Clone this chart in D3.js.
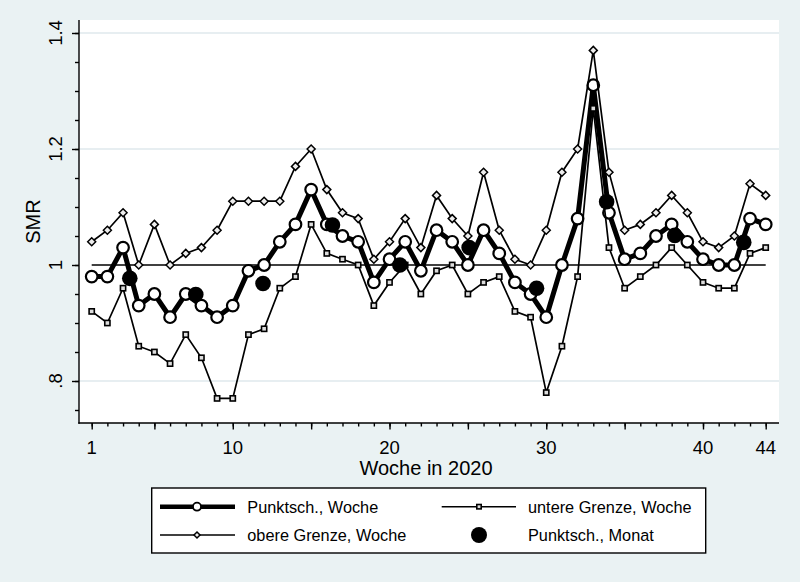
<!DOCTYPE html>
<html>
<head>
<meta charset="utf-8">
<script src="https://cdn.jsdelivr.net/npm/d3@7"></script>
<style>
body{margin:0;background:#eaf2f3;}
svg text{font-family:"Liberation Sans",Arial,sans-serif;fill:#000;}
</style>
</head>
<body>
<svg id="chart" width="800" height="582"></svg>
<script>
// Kalenderwochen 2020
var weeks = [1,2,3,4,5,6,7,8,9,10,11,12,13,14,15,16,17,18,19,20,21,22,
             23,24,25,26,27,28,29,30,31,32,33,34,35,36,37,38,39,40,41,42,43,44];
var punktWoche = [0.98,0.98,1.03,0.93,0.95,0.91,0.95,0.93,0.91,0.93,
                  0.99,1.00,1.04,1.07,1.13,1.07,1.05,1.04,0.97,1.01,
                  1.04,0.99,1.06,1.04,1.00,1.06,1.02,0.97,0.95,0.91,
                  1.00,1.08,1.31,1.09,1.01,1.02,1.05,1.07,1.04,1.01,
                  1.00,1.00,1.08,1.07];
var untereWoche = [0.92,0.90,0.96,0.86,0.85,0.83,0.88,0.84,0.77,0.77,
                   0.88,0.89,0.96,0.98,1.07,1.02,1.01,1.00,0.93,0.97,
                   1.00,0.95,0.99,1.00,0.95,0.97,0.98,0.92,0.91,0.78,
                   0.86,0.98,1.27,1.03,0.96,0.98,1.00,1.03,1.00,0.97,
                   0.96,0.96,1.02,1.03];
var obereWoche = [1.04,1.06,1.09,1.00,1.07,1.00,1.02,1.03,1.06,1.11,
                  1.11,1.11,1.11,1.17,1.20,1.13,1.09,1.08,1.01,1.04,
                  1.08,1.03,1.12,1.08,1.05,1.16,1.06,1.01,1.00,1.06,
                  1.16,1.20,1.37,1.16,1.06,1.07,1.09,1.12,1.09,1.04,
                  1.03,1.05,1.14,1.12];
// Monatswerte, x = Monatsmitte in Wochen
var monatWoche = [3.43,7.64,11.93,16.36,20.66,25.08,29.38,33.85,38.2,42.6];
var punktMonat = [0.977,0.949,0.968,1.069,1.0,1.03,0.96,1.109,1.051,1.039];

var yMajor = [0.8,1,1.2,1.4];
var yLabels = [".8","1","1.2","1.4"];
var yMinor = [0.75,0.8,0.85,0.9,0.95,1,1.05,1.1,1.15,1.2,1.25,1.3,1.35,1.4];
var yGrid = [0.8,1.2,1.4];
var xMajor = [1,5,10,15,20,25,30,35,40,44];
var xLabels = [1,10,20,30,40,44];
var legendLabels = ["Punktsch., Woche","untere Grenze, Woche","obere Grenze, Woche","Punktsch., Monat"];

var svg = d3.select("#chart");
var plot = {left:79, right:779, top:20, bottom:423};

var x = d3.scaleLinear().domain([1,44]).range([91.7,765.7]);
var y = d3.scaleLinear().domain([0.8,1.4]).range([381,33]);

svg.append("rect").attr("width",800).attr("height",582).attr("fill","#eaf2f3");
svg.append("rect")
   .attr("x",plot.left).attr("y",plot.top)
   .attr("width",plot.right-plot.left).attr("height",plot.bottom-plot.top)
   .attr("fill","#ffffff");

// gridlines
svg.selectAll("line.grid")
   .data(yGrid)
   .enter()
   .append("line")
   .attr("class","grid")
   .attr("x1",plot.left).attr("x2",plot.right)
   .attr("y1",function(d){ return y(d); })
   .attr("y2",function(d){ return y(d); })
   .attr("stroke","#dfe8ec")
   .attr("stroke-width",1.5);

// reference line at 1
svg.append("line")
   .attr("x1",x(1)).attr("x2",x(44))
   .attr("y1",y(1)).attr("y2",y(1))
   .attr("stroke","#000").attr("stroke-width",1.6);

// axes
var yMinorAxis = d3.axisLeft(y).tickValues(yMinor).tickSize(4).tickFormat("");
var yMajorAxis = d3.axisLeft(y).tickValues(yMajor).tickSize(7).tickFormat("");
var xMinorAxis = d3.axisBottom(x).tickValues(weeks).tickSize(3.5).tickFormat("");
var xMajorAxis = d3.axisBottom(x).tickValues(xMajor).tickSize(6.5).tickFormat("");

[yMinorAxis,yMajorAxis].forEach(function(ax){
	var g = svg.append("g").attr("transform","translate("+plot.left+",0)").call(ax);
	g.select(".domain").remove();
	g.selectAll("line").attr("stroke","#000").attr("stroke-width",1.4);
});
[xMinorAxis,xMajorAxis].forEach(function(ax){
	var g = svg.append("g").attr("transform","translate(0,"+plot.bottom+")").call(ax);
	g.select(".domain").remove();
	g.selectAll("line").attr("stroke","#000").attr("stroke-width",1.4);
});
svg.append("line")
   .attr("x1",plot.left).attr("x2",plot.left)
   .attr("y1",plot.top).attr("y2",plot.bottom+0.7)
   .attr("stroke","#000").attr("stroke-width",1.4);
svg.append("line")
   .attr("x1",plot.left-0.7).attr("x2",plot.right)
   .attr("y1",plot.bottom).attr("y2",plot.bottom)
   .attr("stroke","#000").attr("stroke-width",1.4);

svg.selectAll("text.ylab")
   .data(yMajor)
   .enter()
   .append("text")
   .attr("class","ylab")
   .attr("transform",function(d){ return "translate(62,"+y(d)+") rotate(-90)"; })
   .attr("text-anchor","middle")
   .style("font-size","18.5px")
   .text(function(d,i){ return yLabels[i]; });

svg.selectAll("text.xlab")
   .data(xLabels)
   .enter()
   .append("text")
   .attr("class","xlab")
   .attr("x",function(d){ return x(d); })
   .attr("y",454)
   .attr("text-anchor","middle")
   .style("font-size","18.5px")
   .text(function(d){ return d; });

svg.append("text")
   .attr("transform","translate(40,"+((plot.top+plot.bottom)/2)+") rotate(-90)")
   .attr("text-anchor","middle")
   .style("font-size","20px")
   .text("SMR");
svg.append("text")
   .attr("x",(plot.left+plot.right)/2 - 3)
   .attr("y",474.5)
   .attr("text-anchor","middle")
   .style("font-size","20px")
   .text("Woche in 2020");

// series
var line = d3.line()
	.x(function(d,i){ return x(weeks[i]); })
	.y(function(d){ return y(d); });

var diamond = function(s){ return "M0,"+(-s)+"L"+s+",0L0,"+s+"L"+(-s)+",0Z"; };

var drawMarkers = function(g, kind, cx, cy, big){
	if(kind=="punkt"){
		g.append("circle").attr("cx",cx).attr("cy",cy).attr("r",big?5.8:4)
		 .attr("fill","#fff").attr("stroke","#000").attr("stroke-width",big?2.2:1.8);
	}else if(kind=="untere"){
		var s = big?2.6:2.2;
		g.append("rect").attr("x",cx-s).attr("y",cy-s).attr("width",2*s).attr("height",2*s)
		 .attr("fill","#ddd").attr("stroke","#000").attr("stroke-width",1.6);
	}else if(kind=="obere"){
		g.append("path").attr("d",diamond(big?4:3)).attr("transform","translate("+cx+","+cy+")")
		 .attr("fill","#eee").attr("stroke","#000").attr("stroke-width",1.5);
	}else{
		g.append("circle").attr("cx",cx).attr("cy",cy).attr("r",big?7.8:8).attr("fill","#000");
	}
};

var series = [
	{kind:"punkt", data:punktWoche, width:5},
	{kind:"untere", data:untereWoche, width:1.7},
	{kind:"obere", data:obereWoche, width:1.7}
];
series.forEach(function(s){
	var g = svg.append("g").attr("class","series "+s.kind);
	g.append("path")
	 .attr("d",line(s.data))
	 .attr("fill","none")
	 .attr("stroke","#000")
	 .attr("stroke-width",s.width)
	 .attr("stroke-linejoin","miter");
	s.data.forEach(function(d,i){
		drawMarkers(g, s.kind, x(weeks[i]), y(d), true);
	});
});
var gMonat = svg.append("g").attr("class","series monat");
punktMonat.forEach(function(d,i){
	drawMarkers(gMonat, "monat", x(monatWoche[i]), y(d), true);
});

// legend
var legend = svg.append("g").attr("class","legend");
legend.append("rect")
	  .attr("x",151.7).attr("y",488).attr("width",554).attr("height",65)
	  .attr("fill","#fff").attr("stroke","#000").attr("stroke-width",1.4);
var legendKinds = ["punkt","untere","obere","monat"];
var colX = [{x1:160,x2:235,m:197,t:247.3},{x1:441.7,x2:516,m:479,t:528}];
var rowY = [506.7,535];
legendLabels.forEach(function(lab,i){
	var c = colX[i%2], r = rowY[Math.floor(i/2)], kind = legendKinds[i];
	if(kind!="monat"){
		legend.append("line").attr("x1",c.x1).attr("x2",c.x2).attr("y1",r).attr("y2",r)
			  .attr("stroke","#000").attr("stroke-width",kind=="punkt"?4.5:1.6);
	}
	drawMarkers(legend, kind, c.m, r, false);
	legend.append("text")
		  .attr("x",c.t).attr("y",r+5.8)
		  .style("font-size","16.3px")
		  .text(lab);
});
</script>
</body>
</html>
